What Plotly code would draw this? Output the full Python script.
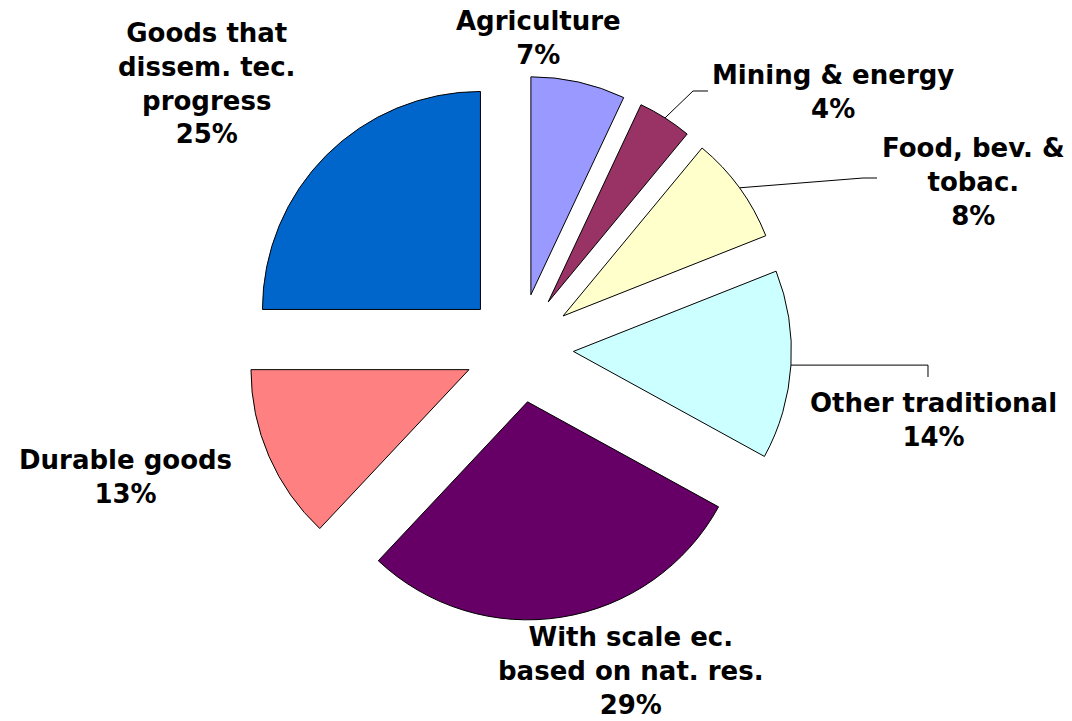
import math
import plotly.graph_objects as go

# Sector shares (%), clockwise from 12 o'clock
sectors = [
    "Agriculture",
    "Mining & energy",
    "Food, bev. & tobac.",
    "Other traditional",
    "With scale ec. based on nat. res.",
    "Durable goods",
    "Goods that dissem. tec. progress",
]
shares = [7, 4, 8, 14, 29, 13, 25]
label_text = [
    "Agriculture<br>7%",
    "Mining & energy<br>4%",
    "Food, bev. &<br>tobac.<br>8%",
    "Other traditional<br>14%",
    "With scale ec.<br>based on nat. res.<br>29%",
    "Durable goods<br>13%",
    "Goods that<br>dissem. tec.<br>progress<br>25%",
]
colors = ["#9999FF", "#993366", "#FFFFCC", "#CCFFFF", "#660066", "#FF8080", "#0066CC"]

W, H = 1072, 721
PULL = 0.25
R = 218                      # pie radius in px
CX, CY = 519, 348            # pie centre in px (from top-left)
BOX = 2 * R * (1 + PULL)     # square domain needed for radius R with the pull

def px(x):
    return x / W

def py(y):
    return 1 - y / H

fig = go.Figure(
    go.Pie(
        labels=sectors,
        values=shares,
        sort=False,
        direction="clockwise",
        rotation=0,
        pull=[PULL] * len(shares),
        marker=dict(colors=colors, line=dict(color="#000000", width=1)),
        textinfo="none",
        hoverinfo="label+percent",
        domain=dict(
            x=[px(CX - BOX / 2), px(CX + BOX / 2)],
            y=[py(CY + BOX / 2), py(CY - BOX / 2)],
        ),
        showlegend=False,
    )
)

# label centres (px)
label_pos = [
    (538, 38),
    (833, 92),
    (973, 182),
    (933, 420),
    (631, 671),
    (125, 477),
    (206, 84),
]
font = dict(family="DejaVu Sans, Arial, sans-serif", size=26, color="#000000")
for txt, (lx, ly) in zip(label_text, label_pos):
    fig.add_annotation(
        x=px(lx), y=py(ly), xref="paper", yref="paper",
        text="<b>" + txt + "</b>", showarrow=False,
        xanchor="center", yanchor="middle", align="center", font=font,
    )

# point on the outer arc at the middle of a slice
total = sum(shares)
def arc_mid(i):
    start = sum(shares[:i]) / total * 360
    mid = math.radians(start + shares[i] / total * 360 / 2)
    d = R * (1 + PULL)
    return CX + d * math.sin(mid), CY - d * math.cos(mid)

# leader lines: slice -> elbow -> end
leaders = {
    1: [(693, 91), (708, 91)],
    2: [(863, 178), (877, 178)],
    3: [(928, None), (928, 377)],
}
for i, pts in leaders.items():
    sx, sy = arc_mid(i)
    path_pts = [(sx, sy)]
    for (x, y) in pts:
        path_pts.append((x, sy if y is None else y))
    path = "M " + " L ".join(f"{px(x):.5f},{py(y):.5f}" for x, y in path_pts)
    fig.add_shape(type="path", path=path, xref="paper", yref="paper",
                  line=dict(color="#000000", width=1))

fig.update_layout(
    width=W, height=H,
    margin=dict(l=0, r=0, t=0, b=0),
    paper_bgcolor="#FFFFFF",
    plot_bgcolor="#FFFFFF",
)

fig.write_html("out.html")
